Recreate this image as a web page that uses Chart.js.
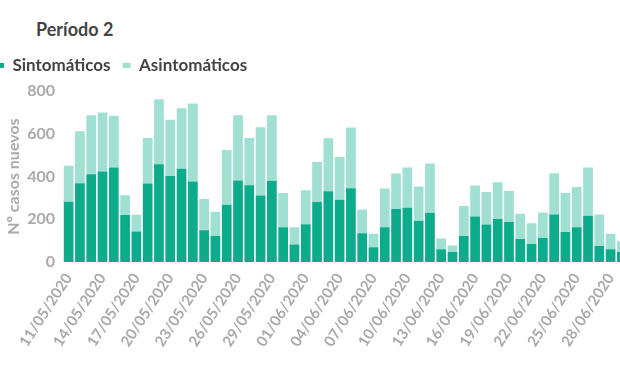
<!DOCTYPE html>
<html>
<head>
<meta charset="utf-8">
<script src="https://cdn.jsdelivr.net/npm/chart.js@4.4.1/dist/chart.umd.min.js"></script>
<style>
  html, body { margin: 0; padding: 0; background: #fff; width: 620px; height: 368px; overflow: hidden; position: relative; }
  #title { position: absolute; left: 36px; top: 18px; font: bold 18px Lato, sans-serif; color: #444; white-space: nowrap; }
  #wrap { position: absolute; left: -16px; top: 0; width: 661px; height: 368px; }
</style>
</head>
<body>
<div id="title">Período 2</div>
<div id="wrap"><canvas id="c"></canvas></div>
<script>
const dates = ["11/05/2020","12/05/2020","13/05/2020","14/05/2020","15/05/2020","16/05/2020","17/05/2020","18/05/2020","19/05/2020","20/05/2020",
  "21/05/2020","22/05/2020","23/05/2020","24/05/2020","25/05/2020","26/05/2020","27/05/2020","28/05/2020","29/05/2020","30/05/2020",
  "31/05/2020","01/06/2020","02/06/2020","03/06/2020","04/06/2020","05/06/2020","06/06/2020","07/06/2020","08/06/2020","09/06/2020",
  "10/06/2020","11/06/2020","12/06/2020","13/06/2020","14/06/2020","15/06/2020","16/06/2020","17/06/2020","18/06/2020","19/06/2020",
  "20/06/2020","21/06/2020","22/06/2020","23/06/2020","24/06/2020","25/06/2020","26/06/2020","27/06/2020","28/06/2020","29/06/2020"];
const sintomaticos = [282,369,411,424,442,220,143,367,458,402,
  436,377,149,122,268,381,359,311,380,163,
  82,177,281,331,292,345,135,69,163,248,
  254,193,231,60,47,122,213,176,201,187,
  108,85,113,223,141,163,217,75,60,47];
const asintomaticos = [168,243,276,276,242,92,78,213,303,263,
  283,364,146,113,256,306,221,320,307,160,
  81,159,187,248,199,284,111,63,181,166,
  188,160,230,50,31,140,145,152,172,146,
  118,97,119,193,182,188,225,148,73,50];
const yTicks = [0,200,400,600,800];

const gray = '#a9a9a9';
const legendSpacer = {
  id: 'legendSpacer',
  beforeInit(chart) {
    const origFit = chart.legend.fit;
    chart.legend.fit = function () { origFit.call(this); this.height += 7; };
  }
};
new Chart(document.getElementById('c'), {
  type: 'bar',
  data: {
    labels: dates,
    datasets: [
      { label: 'Sintomáticos', data: sintomaticos, backgroundColor: '#0bab8c', borderWidth: 0, barPercentage: 0.86, categoryPercentage: 1 },
      { label: 'Asintomáticos', data: asintomaticos, backgroundColor: '#9fe0d3', borderWidth: 0, barPercentage: 0.86, categoryPercentage: 1 }
    ]
  },
  plugins: [legendSpacer],
  options: {
    responsive: true,
    maintainAspectRatio: false,
    animation: false,
    layout: { padding: { top: 45, left: 0, right: 2, bottom: 10 } },
    plugins: {
      title: { display: false },
      tooltip: { enabled: false },
      legend: {
        position: 'top', align: 'start',
        labels: { boxWidth: 8, boxHeight: 5, padding: 12, color: '#444', font: { family: 'Lato', weight: 'bold', size: 17 } }
      }
    },
    scales: {
      x: {
        stacked: true,
        grid: { display: false, drawTicks: false }, border: { display: false },
        afterFit: (s) => { s.paddingLeft = 0; },
        ticks: {
          autoSkip: false, minRotation: 57, maxRotation: 57, padding: 8,
          color: gray, font: { family: 'Lato', weight: 'bold', size: 15 },
          callback: function(v, i) { return i % 3 === 0 ? this.getLabelForValue(v) : ''; }
        }
      },
      y: {
        stacked: true, min: 0, max: 800,
        afterBuildTicks: (s) => { s.ticks = yTicks.map(v => ({ value: v })); },
        afterFit: (s) => { s.width = 79; },
        grid: { display: false, drawTicks: false }, border: { display: false },
        ticks: { color: gray, padding: 8, font: { family: 'Lato', weight: 'bold', size: 16 } },
        title: { display: true, text: 'Nº casos nuevos', color: gray, padding: { top: 20, bottom: 4 }, font: { family: 'Lato', weight: 'bold', size: 16 } }
      }
    }
  }
});
</script>
</body>
</html>
